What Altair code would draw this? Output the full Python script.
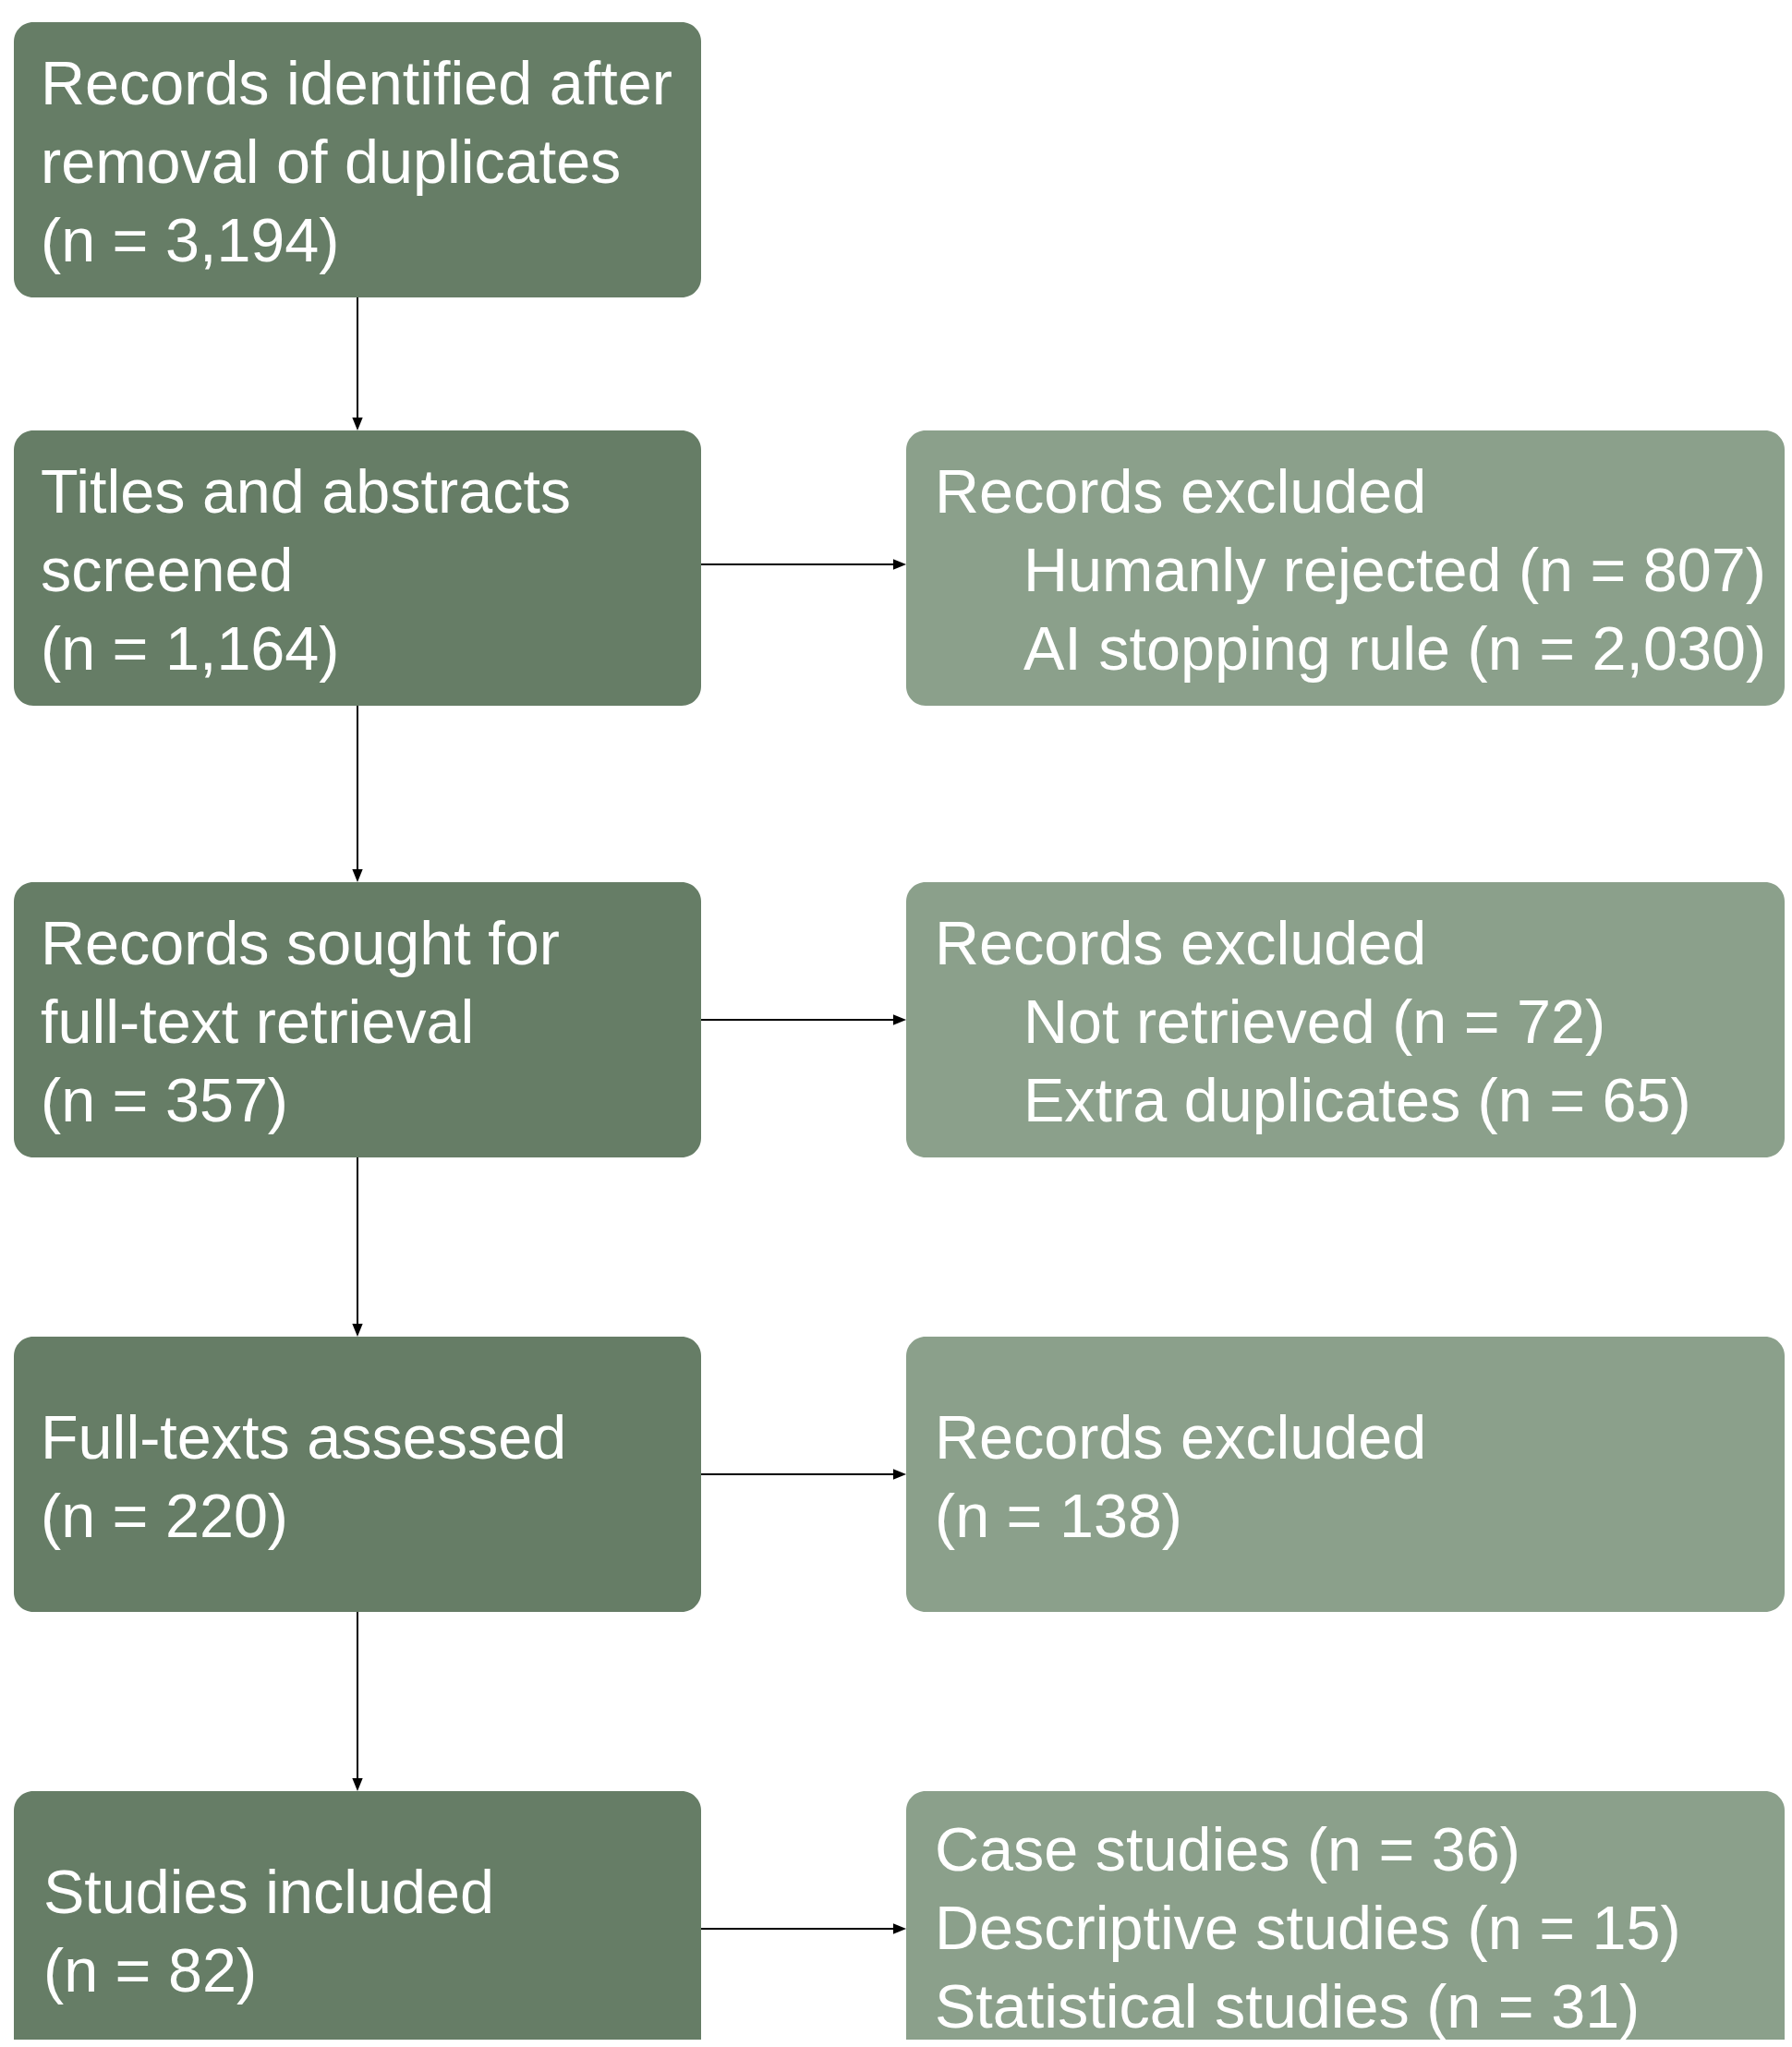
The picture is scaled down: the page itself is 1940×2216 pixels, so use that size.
import altair as alt
import pandas as pd

# ---- content ----
main_titles = [
    ["Records identified after", "removal of duplicates"],
    ["Titles and abstracts", "screened"],
    ["Records sought for", "full-text retrieval"],
    ["Full-texts assessed"],
    ["Studies included"],
]
main_counts = ["3,194", "1,164", "357", "220", "82"]

side_heads = [None, "Records excluded", "Records excluded", "Records excluded", None]
side_items = [
    [],
    ["Humanly rejected (n = 807)", "AI stopping rule (n = 2,030)"],
    ["Not retrieved (n = 72)", "Extra duplicates (n = 65)"],
    ["(n = 138)"],
    ["Case studies (n = 36)", "Descriptive studies (n = 15)", "Statistical studies (n = 31)"],
]

# ---- layout (page pixels) ----
box_top = [24, 466, 955, 1447, 1939]
box_h = 298
left_x = (15, 759)
right_x = (981, 1932)
line_step = 85
text_shift = 5
text_x_left = 44
text_x_right = 1012
indent_x = 1108
arrow_x = 387
harrow_off = [0, -4, 0, 0, 0]
dark = "#667d66"
light = "#8ba08b"
FONT = "Liberation Sans"
FS = 66.5

boxes, texts = [], []
for i in range(5):
    t = box_top[i]
    boxes.append(dict(x=left_x[0], x2=left_x[1], y=t, y2=t + box_h, c=dark))
    lines = main_titles[i] + ["(n = %s)" % main_counts[i]]
    n = len(lines)
    cy = t + box_h / 2 + text_shift
    for k, s in enumerate(lines):
        texts.append(dict(x=text_x_left + (3 if i == 4 else 0), y=cy + (k - (n - 1) / 2) * line_step, t=s))
    if i > 0:
        boxes.append(dict(x=right_x[0], x2=right_x[1], y=t, y2=t + box_h, c=light))
        rl = []
        if side_heads[i]:
            rl.append((text_x_right, side_heads[i]))
        for s in side_items[i]:
            ind = indent_x if (side_heads[i] and not s.startswith("(")) else text_x_right
            rl.append((ind, s))
        n = len(rl)
        off = -3 if i == 4 else 0
        for k, (xx, s) in enumerate(rl):
            texts.append(dict(x=xx, y=cy + off + (k - (n - 1) / 2) * line_step, t=s))

rules, heads_d, heads_r = [], [], []
for i in range(4):
    y0 = box_top[i] + box_h
    y1 = box_top[i + 1]
    rules.append(dict(x=arrow_x, x2=arrow_x, y=y0, y2=y1 - 10))
    heads_d.append(dict(x=arrow_x, y=y1 - 7))
for i in range(1, 5):
    cy = box_top[i] + box_h / 2 + harrow_off[i]
    rules.append(dict(x=left_x[1], x2=right_x[0] - 10, y=cy, y2=cy))
    heads_r.append(dict(x=right_x[0] - 7, y=cy))

X = alt.Scale(domain=[8, 1932], nice=False, zero=False)
Y = alt.Scale(domain=[8, 2208], nice=False, zero=False, reverse=True)
noax = None

box_layer = alt.Chart(pd.DataFrame(boxes)).mark_rect(cornerRadius=21).encode(
    x=alt.X("x:Q", scale=X, axis=noax), x2="x2", y=alt.Y("y:Q", scale=Y, axis=noax), y2="y2",
    color=alt.Color("c:N", scale=None),
)
rule_layer = alt.Chart(pd.DataFrame(rules)).mark_rule(color="black", strokeWidth=2).encode(
    x=alt.X("x:Q", scale=X, axis=noax), x2="x2", y=alt.Y("y:Q", scale=Y, axis=noax), y2="y2"
)
hd_layer = alt.Chart(pd.DataFrame(heads_d)).mark_point(
    shape="M-0.8,-1L0.8,-1L0,1Z", filled=True, color="black", opacity=1, size=200
).encode(x=alt.X("x:Q", scale=X, axis=noax), y=alt.Y("y:Q", scale=Y, axis=noax))
hr_layer = alt.Chart(pd.DataFrame(heads_r)).mark_point(
    shape="M-1,-0.8L1,0L-1,0.8Z", filled=True, color="black", opacity=1, size=200
).encode(x=alt.X("x:Q", scale=X, axis=noax), y=alt.Y("y:Q", scale=Y, axis=noax))
text_layer = alt.Chart(pd.DataFrame(texts)).mark_text(
    align="left", baseline="middle", font=FONT, fontSize=FS, color="white"
).encode(x=alt.X("x:Q", scale=X, axis=noax), y=alt.Y("y:Q", scale=Y, axis=noax), text="t:N")

chart = alt.layer(box_layer, rule_layer, hd_layer, hr_layer, text_layer).properties(
    width=1924, height=2200, padding=0, autosize=alt.AutoSizeParams(type="none")
).configure_view(stroke=None)

chart.save("out.html", embed_options={"renderer": "svg", "actions": False})
